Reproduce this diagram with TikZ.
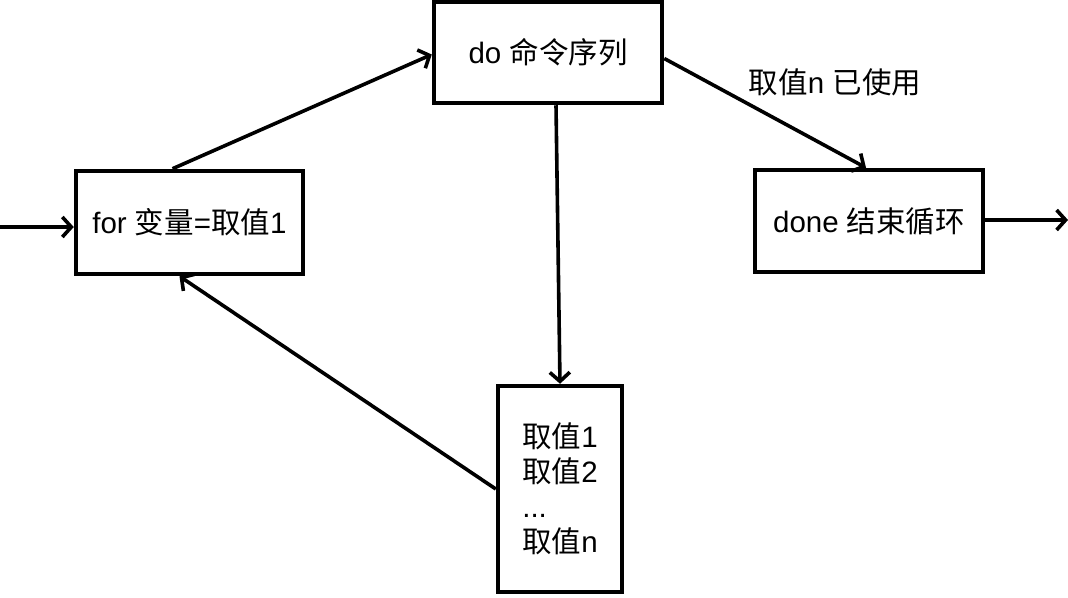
\documentclass[tikz,border=0pt]{standalone}
\usepackage{fontspec}
\setmainfont{Liberation Sans}
\newfontfamily\cjkfont{Noto Sans CJK SC}
\newcommand{\zh}[1]{{\cjkfont #1}}
\usetikzlibrary{arrows.meta}
\begin{document}
\begin{tikzpicture}[x=1pt,y=-1pt,
  box/.style={draw=black,line width=4.5pt,inner sep=0pt,font=\fontsize{29.5}{35}\selectfont},
  conn/.style={line width=3.6pt,-{Straight Barb[length=9pt,width=20pt,line width=3.6pt]}},
  lbl/.style={font=\fontsize{29.5}{35}\selectfont,inner sep=0pt}]
\useasboundingbox (0,0) rectangle (1068,597);
\fill[white] (0,0) rectangle (1068,597);
\node[box,minimum width=227pt,minimum height=103pt] (forbox) at (189.5,222.5) {for \zh{变量}=\zh{取值}1};
\node[box,minimum width=228pt,minimum height=101pt] (dobox) at (548,52.5) {do \zh{命令序列}};
\node[box,minimum width=228pt,minimum height=102pt] (donebox) at (869,221) {done \zh{结束循环}};
\node[box,minimum width=124pt,minimum height=206pt,align=left] (valbox) at (560,489)
  {\zh{取值}1\\\zh{取值}2\\...\\\zh{取值}n};
\node[lbl] (usedlbl) at (835,82) {\zh{取值}n \zh{已使用}};
\coordinate (entry) at (0,227);
\coordinate (exit) at (1068,220);
\draw[conn] (entry) -- (entry -| forbox.west);
\draw[conn] ([xshift=-17pt]forbox.north) -- ([yshift=-2pt]dobox.west);
\draw[conn] ([xshift=8pt]dobox.south) -- (valbox.north);
\draw[conn] (valbox.west) -- ([xshift=-10pt]forbox.south);
\draw[conn] ([yshift=-6pt]dobox.east) -- ([xshift=-3pt]donebox.north);
\draw[conn] (donebox.east |- exit) -- (exit);
\end{tikzpicture}
\end{document}
